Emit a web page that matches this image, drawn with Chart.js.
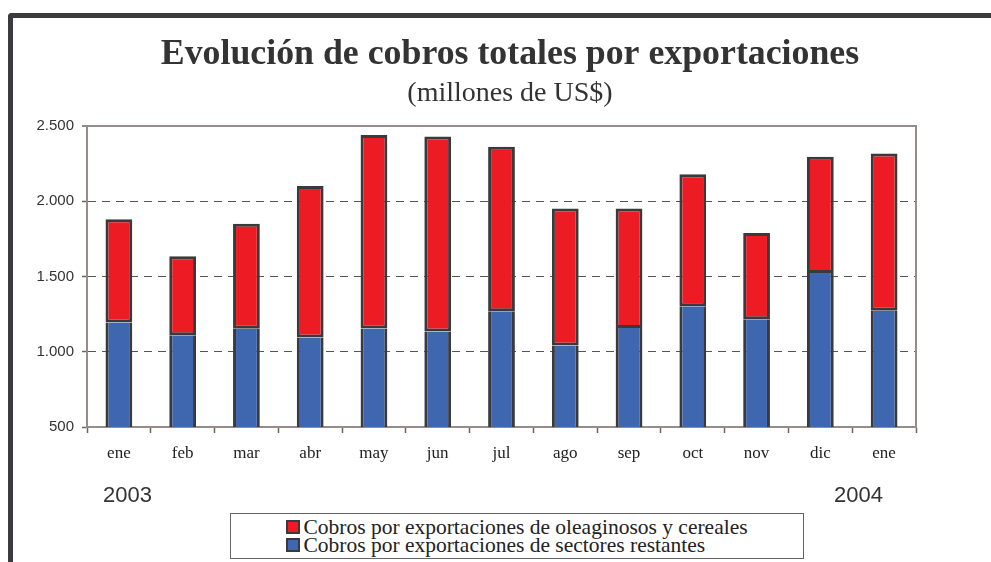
<!DOCTYPE html>
<html>
<head>
<meta charset="utf-8">
<script src="https://cdn.jsdelivr.net/npm/chart.js@4/dist/chart.umd.min.js"></script>
<style>
  html, body { margin: 0; padding: 0; background: #fff; }
  #wrap { position: relative; width: 991px; height: 562px; overflow: hidden; }
  #frame {
    position: absolute; left: 8px; top: 13px; width: 1200px; height: 800px;
    border-left: 5px solid #3b3a3e; border-top: 5px solid #3b3a3e;
    border-top-left-radius: 4px;
  }
  #chart { position: absolute; left: 0; top: 0; }
  .year { position: absolute; top: 482px; font: 22px 'Liberation Sans', sans-serif; color: #333; }
  #legend {
    position: absolute; left: 230px; top: 513px; width: 572px; height: 44px;
    border: 1px solid #666; background: #fff;
    display: flex; justify-content: center; align-items: center;
    font: 21.5px 'Liberation Serif', serif; color: #222;
  }
  #legend .item { display: flex; align-items: center; line-height: 18.5px; }
  #legend .sw { width: 10px; height: 10px; border: 2px solid #3a3a3c; margin-right: 3px; }
</style>
</head>
<body>
<div id="wrap">
  <div id="frame"></div>
  <canvas id="chart" width="991" height="562"></canvas>
  <div class="year" style="left:103px">2003</div>
  <div class="year" style="left:834px">2004</div>
  <div id="legend"><div id="legendItems"></div></div>
</div>
<script>
// categories
const labels = ['ene', 'feb', 'mar', 'abr', 'may', 'jun', 'jul', 'ago', 'sep', 'oct', 'nov', 'dic', 'ene'];

// millones de US$
const restantes = [1195, 1109, 1153, 1095, 1155, 1135, 1269, 1042, 1158, 1302, 1216, 1524, 1273];
const oleaginosos = [685, 526, 698, 1007, 1285, 1296, 1093, 909, 793, 878, 573, 772, 1045];

const yTicks = [500, 1000, 1500, 2000, 2500];

const RED = '#ed1c24';
const BLUE = '#3f67b0';
const EDGE = '#3a3a3c';
const AXIS = '#978c89';

const fmt = v => String(v).replace(/\B(?=(\d{3})+(?!\d))/g, '.');

const data = {
  labels: labels,
  datasets: [
    {
      label: 'Cobros por exportaciones de sectores restantes',
      data: restantes,
      backgroundColor: BLUE,
      borderColor: EDGE,
      borderWidth: 3,
      borderSkipped: 'top', // the red segment's bottom edge is the divider
    },
    {
      label: 'Cobros por exportaciones de oleaginosos y cereales',
      data: oleaginosos,
      backgroundColor: RED,
      borderColor: EDGE,
      borderWidth: 3,
      borderSkipped: false,
    },
  ],
};

const config = {
  type: 'bar',
  data,
  options: {
    responsive: false,
    animation: false,
    layout: { padding: { left: 29, right: 0, top: 0, bottom: 0 } },
    datasets: { bar: { barPercentage: 0.42, categoryPercentage: 1 } },
    plugins: {
      legend: { display: false },
      tooltip: { enabled: false },
      title: {
        display: true,
        text: 'Evolución de cobros totales por exportaciones',
        color: '#333',
        font: { family: 'Liberation Serif', size: 35.8, weight: 'bold' },
        padding: { top: 33.7, bottom: 0 },
      },
      subtitle: {
        display: true,
        text: '(millones de US$)',
        color: '#333',
        font: { family: 'Liberation Serif', size: 28 },
        padding: { top: 0.34, bottom: 15.4 },
      },
    },
    scales: {
      x: {
        stacked: true,
        offset: true,
        grid: { offset: true, drawOnChartArea: false, tickLength: 6, tickColor: '#666', tickWidth: 1.5 },
        border: { color: AXIS, width: 2 },
        ticks: { padding: 10, color: '#222', font: { family: 'Liberation Serif', size: 17 } },
        afterFit: s => { s.height = 135; },
      },
      y: {
        stacked: true,
        min: 500,
        max: 2500,
        afterBuildTicks: s => { s.ticks = yTicks.map(v => ({ value: v })); },
        ticks: {
          padding: 8,
          color: '#333',
          font: { family: 'Liberation Sans', size: 15 },
          callback: v => fmt(v),
        },
        grid: {
          color: c => c.tick.value === 2500 ? AXIS : (c.tick.value === 500 ? 'rgba(0,0,0,0)' : '#555'),
          lineWidth: c => c.tick.value === 2500 ? 2 : 1,
          tickColor: '#666',
          tickLength: 5,
          tickWidth: 1.5,
          tickBorderDash: [],
        },
        border: {
          color: AXIS,
          width: 2,
          dash: c => (c.tick && c.tick.value > 500 && c.tick.value < 2500) ? [8, 6] : [],
        },
        afterFit: s => { s.width = 58; },
      },
      y2: {
        position: 'right',
        min: 500,
        max: 2500,
        grid: { display: false },
        ticks: { display: false },
        border: { color: AXIS, width: 2 },
        afterFit: s => { s.width = 75; },
      },
    },
  },
};

const chart = new Chart(document.getElementById('chart'), config);

// legend (red on top, as in the original)
const box = document.getElementById('legendItems');
[1, 0].forEach(i => {
  const ds = data.datasets[i];
  const row = document.createElement('div');
  row.className = 'item';
  const sw = document.createElement('span');
  sw.className = 'sw';
  sw.style.background = ds.backgroundColor;
  const tx = document.createElement('span');
  tx.textContent = ds.label;
  row.appendChild(sw);
  row.appendChild(tx);
  box.appendChild(row);
});
</script>
</body>
</html>
